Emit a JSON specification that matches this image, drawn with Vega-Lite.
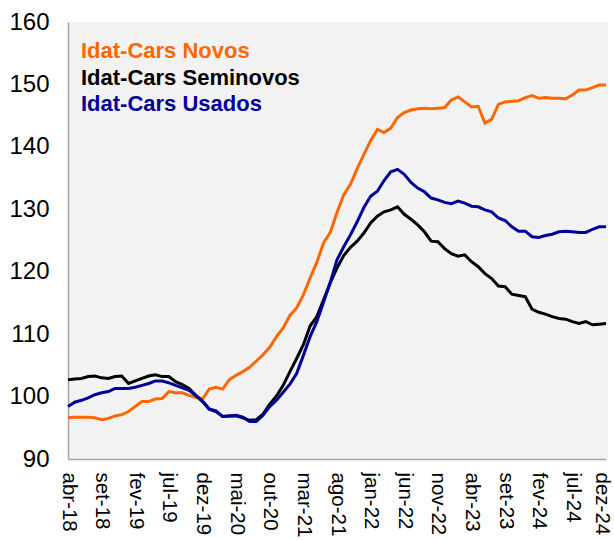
{
 "$schema": "https://vega.github.io/schema/vega-lite/v6.json",
 "autosize": {"type": "none"},
 "padding": {"left": 68, "top": 22, "right": 6, "bottom": 81},
 "width": 540,
 "height": 437,
 "background": "white",
 "config": {"view": {"fill": "#f2f2f2", "stroke": null}, "font": "Liberation Sans"},
 "datasets": {
  "idat": [
{"mes":"abr-18","serie":"Idat-Cars Novos","valor":96.6},{"mes":"mai-18","serie":"Idat-Cars Novos","valor":96.7},{"mes":"jun-18","serie":"Idat-Cars Novos","valor":96.7},{"mes":"jul-18","serie":"Idat-Cars Novos","valor":96.7},{"mes":"ago-18","serie":"Idat-Cars Novos","valor":96.6},{"mes":"set-18","serie":"Idat-Cars Novos","valor":96.3},{"mes":"out-18","serie":"Idat-Cars Novos","valor":96.5},{"mes":"nov-18","serie":"Idat-Cars Novos","valor":96.9},{"mes":"dez-18","serie":"Idat-Cars Novos","valor":97.1},{"mes":"jan-19","serie":"Idat-Cars Novos","valor":97.6},{"mes":"fev-19","serie":"Idat-Cars Novos","valor":98.4},{"mes":"mar-19","serie":"Idat-Cars Novos","valor":99.2},{"mes":"abr-19","serie":"Idat-Cars Novos","valor":99.2},{"mes":"mai-19","serie":"Idat-Cars Novos","valor":99.6},{"mes":"jun-19","serie":"Idat-Cars Novos","valor":99.7},{"mes":"jul-19","serie":"Idat-Cars Novos","valor":100.8},{"mes":"ago-19","serie":"Idat-Cars Novos","valor":100.6},{"mes":"set-19","serie":"Idat-Cars Novos","valor":100.6},{"mes":"out-19","serie":"Idat-Cars Novos","valor":100.2},{"mes":"nov-19","serie":"Idat-Cars Novos","valor":99.9},{"mes":"dez-19","serie":"Idat-Cars Novos","valor":99.6},{"mes":"jan-20","serie":"Idat-Cars Novos","valor":101.2},{"mes":"fev-20","serie":"Idat-Cars Novos","valor":101.5},{"mes":"mar-20","serie":"Idat-Cars Novos","valor":101.2},{"mes":"abr-20","serie":"Idat-Cars Novos","valor":102.7},{"mes":"mai-20","serie":"Idat-Cars Novos","valor":103.4},{"mes":"jun-20","serie":"Idat-Cars Novos","valor":104.0},{"mes":"jul-20","serie":"Idat-Cars Novos","valor":104.7},{"mes":"ago-20","serie":"Idat-Cars Novos","valor":105.7},{"mes":"set-20","serie":"Idat-Cars Novos","valor":106.7},{"mes":"out-20","serie":"Idat-Cars Novos","valor":107.9},{"mes":"nov-20","serie":"Idat-Cars Novos","valor":109.6},{"mes":"dez-20","serie":"Idat-Cars Novos","valor":111.0},{"mes":"jan-21","serie":"Idat-Cars Novos","valor":113.0},{"mes":"fev-21","serie":"Idat-Cars Novos","valor":114.2},{"mes":"mar-21","serie":"Idat-Cars Novos","valor":116.3},{"mes":"abr-21","serie":"Idat-Cars Novos","valor":119.0},{"mes":"mai-21","serie":"Idat-Cars Novos","valor":121.5},{"mes":"jun-21","serie":"Idat-Cars Novos","valor":124.6},{"mes":"jul-21","serie":"Idat-Cars Novos","valor":126.3},{"mes":"ago-21","serie":"Idat-Cars Novos","valor":129.5},{"mes":"set-21","serie":"Idat-Cars Novos","valor":132.3},{"mes":"out-21","serie":"Idat-Cars Novos","valor":134.0},{"mes":"nov-21","serie":"Idat-Cars Novos","valor":136.5},{"mes":"dez-21","serie":"Idat-Cars Novos","valor":138.8},{"mes":"jan-22","serie":"Idat-Cars Novos","valor":141.0},{"mes":"fev-22","serie":"Idat-Cars Novos","valor":142.8},{"mes":"mar-22","serie":"Idat-Cars Novos","valor":142.3},{"mes":"abr-22","serie":"Idat-Cars Novos","valor":143.0},{"mes":"mai-22","serie":"Idat-Cars Novos","valor":144.7},{"mes":"jun-22","serie":"Idat-Cars Novos","valor":145.5},{"mes":"jul-22","serie":"Idat-Cars Novos","valor":145.9},{"mes":"ago-22","serie":"Idat-Cars Novos","valor":146.1},{"mes":"set-22","serie":"Idat-Cars Novos","valor":146.2},{"mes":"out-22","serie":"Idat-Cars Novos","valor":146.1},{"mes":"nov-22","serie":"Idat-Cars Novos","valor":146.2},{"mes":"dez-22","serie":"Idat-Cars Novos","valor":146.3},{"mes":"jan-23","serie":"Idat-Cars Novos","valor":147.5},{"mes":"fev-23","serie":"Idat-Cars Novos","valor":148.0},{"mes":"mar-23","serie":"Idat-Cars Novos","valor":147.2},{"mes":"abr-23","serie":"Idat-Cars Novos","valor":146.4},{"mes":"mai-23","serie":"Idat-Cars Novos","valor":146.5},{"mes":"jun-23","serie":"Idat-Cars Novos","valor":143.8},{"mes":"jul-23","serie":"Idat-Cars Novos","valor":144.4},{"mes":"ago-23","serie":"Idat-Cars Novos","valor":146.8},{"mes":"set-23","serie":"Idat-Cars Novos","valor":147.2},{"mes":"out-23","serie":"Idat-Cars Novos","valor":147.3},{"mes":"nov-23","serie":"Idat-Cars Novos","valor":147.4},{"mes":"dez-23","serie":"Idat-Cars Novos","valor":147.9},{"mes":"jan-24","serie":"Idat-Cars Novos","valor":148.2},{"mes":"fev-24","serie":"Idat-Cars Novos","valor":147.8},{"mes":"mar-24","serie":"Idat-Cars Novos","valor":147.9},{"mes":"abr-24","serie":"Idat-Cars Novos","valor":147.8},{"mes":"mai-24","serie":"Idat-Cars Novos","valor":147.8},{"mes":"jun-24","serie":"Idat-Cars Novos","valor":147.7},{"mes":"jul-24","serie":"Idat-Cars Novos","valor":148.3},{"mes":"ago-24","serie":"Idat-Cars Novos","valor":149.1},{"mes":"set-24","serie":"Idat-Cars Novos","valor":149.1},{"mes":"out-24","serie":"Idat-Cars Novos","valor":149.5},{"mes":"nov-24","serie":"Idat-Cars Novos","valor":149.9},{"mes":"dez-24","serie":"Idat-Cars Novos","valor":149.9},
{"mes":"abr-18","serie":"Idat-Cars Seminovos","valor":102.7},{"mes":"mai-18","serie":"Idat-Cars Seminovos","valor":102.8},{"mes":"jun-18","serie":"Idat-Cars Seminovos","valor":102.9},{"mes":"jul-18","serie":"Idat-Cars Seminovos","valor":103.2},{"mes":"ago-18","serie":"Idat-Cars Seminovos","valor":103.3},{"mes":"set-18","serie":"Idat-Cars Seminovos","valor":103.0},{"mes":"out-18","serie":"Idat-Cars Seminovos","valor":102.9},{"mes":"nov-18","serie":"Idat-Cars Seminovos","valor":103.2},{"mes":"dez-18","serie":"Idat-Cars Seminovos","valor":103.3},{"mes":"jan-19","serie":"Idat-Cars Seminovos","valor":102.1},{"mes":"fev-19","serie":"Idat-Cars Seminovos","valor":102.5},{"mes":"mar-19","serie":"Idat-Cars Seminovos","valor":102.9},{"mes":"abr-19","serie":"Idat-Cars Seminovos","valor":103.3},{"mes":"mai-19","serie":"Idat-Cars Seminovos","valor":103.5},{"mes":"jun-19","serie":"Idat-Cars Seminovos","valor":103.2},{"mes":"jul-19","serie":"Idat-Cars Seminovos","valor":103.2},{"mes":"ago-19","serie":"Idat-Cars Seminovos","valor":102.4},{"mes":"set-19","serie":"Idat-Cars Seminovos","valor":101.9},{"mes":"out-19","serie":"Idat-Cars Seminovos","valor":101.3},{"mes":"nov-19","serie":"Idat-Cars Seminovos","valor":100.2},{"mes":"dez-19","serie":"Idat-Cars Seminovos","valor":99.2},{"mes":"jan-20","serie":"Idat-Cars Seminovos","valor":98.0},{"mes":"fev-20","serie":"Idat-Cars Seminovos","valor":97.6},{"mes":"mar-20","serie":"Idat-Cars Seminovos","valor":96.8},{"mes":"abr-20","serie":"Idat-Cars Seminovos","valor":96.9},{"mes":"mai-20","serie":"Idat-Cars Seminovos","valor":96.9},{"mes":"jun-20","serie":"Idat-Cars Seminovos","valor":96.6},{"mes":"jul-20","serie":"Idat-Cars Seminovos","valor":96.2},{"mes":"ago-20","serie":"Idat-Cars Seminovos","valor":96.3},{"mes":"set-20","serie":"Idat-Cars Seminovos","valor":97.2},{"mes":"out-20","serie":"Idat-Cars Seminovos","valor":98.8},{"mes":"nov-20","serie":"Idat-Cars Seminovos","valor":100.1},{"mes":"dez-20","serie":"Idat-Cars Seminovos","valor":101.8},{"mes":"jan-21","serie":"Idat-Cars Seminovos","valor":104.0},{"mes":"fev-21","serie":"Idat-Cars Seminovos","valor":106.1},{"mes":"mar-21","serie":"Idat-Cars Seminovos","valor":108.3},{"mes":"abr-21","serie":"Idat-Cars Seminovos","valor":111.3},{"mes":"mai-21","serie":"Idat-Cars Seminovos","valor":112.8},{"mes":"jun-21","serie":"Idat-Cars Seminovos","valor":115.5},{"mes":"jul-21","serie":"Idat-Cars Seminovos","valor":118.2},{"mes":"ago-21","serie":"Idat-Cars Seminovos","valor":120.6},{"mes":"set-21","serie":"Idat-Cars Seminovos","valor":122.6},{"mes":"out-21","serie":"Idat-Cars Seminovos","valor":123.9},{"mes":"nov-21","serie":"Idat-Cars Seminovos","valor":124.9},{"mes":"dez-21","serie":"Idat-Cars Seminovos","valor":126.2},{"mes":"jan-22","serie":"Idat-Cars Seminovos","valor":127.8},{"mes":"fev-22","serie":"Idat-Cars Seminovos","valor":128.9},{"mes":"mar-22","serie":"Idat-Cars Seminovos","valor":129.6},{"mes":"abr-22","serie":"Idat-Cars Seminovos","valor":129.9},{"mes":"mai-22","serie":"Idat-Cars Seminovos","valor":130.4},{"mes":"jun-22","serie":"Idat-Cars Seminovos","valor":129.2},{"mes":"jul-22","serie":"Idat-Cars Seminovos","valor":128.4},{"mes":"ago-22","serie":"Idat-Cars Seminovos","valor":127.5},{"mes":"set-22","serie":"Idat-Cars Seminovos","valor":126.4},{"mes":"out-22","serie":"Idat-Cars Seminovos","valor":124.9},{"mes":"nov-22","serie":"Idat-Cars Seminovos","valor":124.8},{"mes":"dez-22","serie":"Idat-Cars Seminovos","valor":123.7},{"mes":"jan-23","serie":"Idat-Cars Seminovos","valor":122.9},{"mes":"fev-23","serie":"Idat-Cars Seminovos","valor":122.5},{"mes":"mar-23","serie":"Idat-Cars Seminovos","valor":122.7},{"mes":"abr-23","serie":"Idat-Cars Seminovos","valor":121.6},{"mes":"mai-23","serie":"Idat-Cars Seminovos","valor":120.8},{"mes":"jun-23","serie":"Idat-Cars Seminovos","valor":119.7},{"mes":"jul-23","serie":"Idat-Cars Seminovos","valor":118.9},{"mes":"ago-23","serie":"Idat-Cars Seminovos","valor":117.7},{"mes":"set-23","serie":"Idat-Cars Seminovos","valor":117.6},{"mes":"out-23","serie":"Idat-Cars Seminovos","valor":116.4},{"mes":"nov-23","serie":"Idat-Cars Seminovos","valor":116.2},{"mes":"dez-23","serie":"Idat-Cars Seminovos","valor":116.0},{"mes":"jan-24","serie":"Idat-Cars Seminovos","valor":114.0},{"mes":"fev-24","serie":"Idat-Cars Seminovos","valor":113.5},{"mes":"mar-24","serie":"Idat-Cars Seminovos","valor":113.2},{"mes":"abr-24","serie":"Idat-Cars Seminovos","valor":112.8},{"mes":"mai-24","serie":"Idat-Cars Seminovos","valor":112.5},{"mes":"jun-24","serie":"Idat-Cars Seminovos","valor":112.4},{"mes":"jul-24","serie":"Idat-Cars Seminovos","valor":112.0},{"mes":"ago-24","serie":"Idat-Cars Seminovos","valor":111.7},{"mes":"set-24","serie":"Idat-Cars Seminovos","valor":112.0},{"mes":"out-24","serie":"Idat-Cars Seminovos","valor":111.5},{"mes":"nov-24","serie":"Idat-Cars Seminovos","valor":111.6},{"mes":"dez-24","serie":"Idat-Cars Seminovos","valor":111.7},
{"mes":"abr-18","serie":"Idat-Cars Usados","valor":98.4},{"mes":"mai-18","serie":"Idat-Cars Usados","valor":99.1},{"mes":"jun-18","serie":"Idat-Cars Usados","valor":99.4},{"mes":"jul-18","serie":"Idat-Cars Usados","valor":99.8},{"mes":"ago-18","serie":"Idat-Cars Usados","valor":100.3},{"mes":"set-18","serie":"Idat-Cars Usados","valor":100.6},{"mes":"out-18","serie":"Idat-Cars Usados","valor":100.8},{"mes":"nov-18","serie":"Idat-Cars Usados","valor":101.3},{"mes":"dez-18","serie":"Idat-Cars Usados","valor":101.3},{"mes":"jan-19","serie":"Idat-Cars Usados","valor":101.3},{"mes":"fev-19","serie":"Idat-Cars Usados","valor":101.5},{"mes":"mar-19","serie":"Idat-Cars Usados","valor":101.8},{"mes":"abr-19","serie":"Idat-Cars Usados","valor":102.1},{"mes":"mai-19","serie":"Idat-Cars Usados","valor":102.5},{"mes":"jun-19","serie":"Idat-Cars Usados","valor":102.5},{"mes":"jul-19","serie":"Idat-Cars Usados","valor":102.2},{"mes":"ago-19","serie":"Idat-Cars Usados","valor":101.8},{"mes":"set-19","serie":"Idat-Cars Usados","valor":101.4},{"mes":"out-19","serie":"Idat-Cars Usados","valor":101.0},{"mes":"nov-19","serie":"Idat-Cars Usados","valor":100.2},{"mes":"dez-19","serie":"Idat-Cars Usados","valor":99.3},{"mes":"jan-20","serie":"Idat-Cars Usados","valor":98.0},{"mes":"fev-20","serie":"Idat-Cars Usados","valor":97.7},{"mes":"mar-20","serie":"Idat-Cars Usados","valor":96.8},{"mes":"abr-20","serie":"Idat-Cars Usados","valor":96.9},{"mes":"mai-20","serie":"Idat-Cars Usados","valor":97.0},{"mes":"jun-20","serie":"Idat-Cars Usados","valor":96.7},{"mes":"jul-20","serie":"Idat-Cars Usados","valor":96.0},{"mes":"ago-20","serie":"Idat-Cars Usados","valor":96.0},{"mes":"set-20","serie":"Idat-Cars Usados","valor":97.0},{"mes":"out-20","serie":"Idat-Cars Usados","valor":98.4},{"mes":"nov-20","serie":"Idat-Cars Usados","valor":99.4},{"mes":"dez-20","serie":"Idat-Cars Usados","valor":100.7},{"mes":"jan-21","serie":"Idat-Cars Usados","valor":102.0},{"mes":"fev-21","serie":"Idat-Cars Usados","valor":103.7},{"mes":"mar-21","serie":"Idat-Cars Usados","valor":106.6},{"mes":"abr-21","serie":"Idat-Cars Usados","valor":109.6},{"mes":"mai-21","serie":"Idat-Cars Usados","valor":112.0},{"mes":"jun-21","serie":"Idat-Cars Usados","valor":115.1},{"mes":"jul-21","serie":"Idat-Cars Usados","valor":118.3},{"mes":"ago-21","serie":"Idat-Cars Usados","valor":121.9},{"mes":"set-21","serie":"Idat-Cars Usados","valor":124.0},{"mes":"out-21","serie":"Idat-Cars Usados","valor":125.9},{"mes":"nov-21","serie":"Idat-Cars Usados","valor":128.0},{"mes":"dez-21","serie":"Idat-Cars Usados","valor":130.3},{"mes":"jan-22","serie":"Idat-Cars Usados","valor":132.1},{"mes":"fev-22","serie":"Idat-Cars Usados","valor":132.9},{"mes":"mar-22","serie":"Idat-Cars Usados","valor":134.6},{"mes":"abr-22","serie":"Idat-Cars Usados","valor":136.0},{"mes":"mai-22","serie":"Idat-Cars Usados","valor":136.4},{"mes":"jun-22","serie":"Idat-Cars Usados","valor":135.6},{"mes":"jul-22","serie":"Idat-Cars Usados","valor":134.3},{"mes":"ago-22","serie":"Idat-Cars Usados","valor":133.4},{"mes":"set-22","serie":"Idat-Cars Usados","valor":132.8},{"mes":"out-22","serie":"Idat-Cars Usados","valor":131.8},{"mes":"nov-22","serie":"Idat-Cars Usados","valor":131.5},{"mes":"dez-22","serie":"Idat-Cars Usados","valor":131.1},{"mes":"jan-23","serie":"Idat-Cars Usados","valor":130.9},{"mes":"fev-23","serie":"Idat-Cars Usados","valor":131.3},{"mes":"mar-23","serie":"Idat-Cars Usados","valor":131.0},{"mes":"abr-23","serie":"Idat-Cars Usados","valor":130.5},{"mes":"mai-23","serie":"Idat-Cars Usados","valor":130.4},{"mes":"jun-23","serie":"Idat-Cars Usados","valor":129.9},{"mes":"jul-23","serie":"Idat-Cars Usados","valor":129.6},{"mes":"ago-23","serie":"Idat-Cars Usados","valor":128.6},{"mes":"set-23","serie":"Idat-Cars Usados","valor":128.2},{"mes":"out-23","serie":"Idat-Cars Usados","valor":127.2},{"mes":"nov-23","serie":"Idat-Cars Usados","valor":126.5},{"mes":"dez-23","serie":"Idat-Cars Usados","valor":126.5},{"mes":"jan-24","serie":"Idat-Cars Usados","valor":125.6},{"mes":"fev-24","serie":"Idat-Cars Usados","valor":125.5},{"mes":"mar-24","serie":"Idat-Cars Usados","valor":125.8},{"mes":"abr-24","serie":"Idat-Cars Usados","valor":126.0},{"mes":"mai-24","serie":"Idat-Cars Usados","valor":126.4},{"mes":"jun-24","serie":"Idat-Cars Usados","valor":126.5},{"mes":"jul-24","serie":"Idat-Cars Usados","valor":126.4},{"mes":"ago-24","serie":"Idat-Cars Usados","valor":126.3},{"mes":"set-24","serie":"Idat-Cars Usados","valor":126.3},{"mes":"out-24","serie":"Idat-Cars Usados","valor":126.8},{"mes":"nov-24","serie":"Idat-Cars Usados","valor":127.2},{"mes":"dez-24","serie":"Idat-Cars Usados","valor":127.2}
  ]
 },
 "data": {"name": "idat"},
 "mark": {"type": "line", "strokeWidth": 3},
 "encoding": {
  "x": {
   "field": "mes", "type": "ordinal", "sort": null,
   "scale": {"type": "point", "padding": 0, "range": [0, 538]},
   "axis": {
    "title": null,
    "values": ["abr-18","set-18","fev-19","jul-19","dez-19","mai-20","out-20","mar-21","ago-21","jan-22","jun-22","nov-22","abr-23","set-23","fev-24","jul-24","dez-24"],
    "labelAngle": 90, "labelAlign": "left", "labelBaseline": "middle",
    "labelFontSize": 20.5, "labelColor": "#000000", "labelPadding": 13,
    "labelOffset": {"condition": {"test": "datum.value === 'dez-24'", "value": -5}, "value": 0},
    "labelOverlap": false, "labelBound": false,
    "ticks": false, "grid": false, "domainColor": "#a6a6a6", "domainWidth": 1.5
   }
  },
  "y": {
   "field": "valor", "type": "quantitative",
   "scale": {"domain": [90, 160], "nice": false, "zero": false},
   "axis": {
    "title": null, "values": [90, 100, 110, 120, 130, 140, 150, 160],
    "labelFontSize": 24, "labelColor": "#000000", "labelPadding": 19, "labelFlush": false,
    "ticks": false, "grid": false, "domainColor": "#a6a6a6", "domainWidth": 1.5
   }
  },
  "color": {
   "field": "serie", "type": "nominal",
   "scale": {"domain": ["Idat-Cars Novos", "Idat-Cars Seminovos", "Idat-Cars Usados"], "range": ["#ff6600", "#000000", "#000099"]},
   "legend": {
    "title": null, "orient": "none", "legendX": -11, "legendY": 18, "padding": 0,
    "symbolSize": 0, "symbolOpacity": 0, "symbolStrokeWidth": 0,
    "labelFontSize": 22, "labelFontWeight": "bold", "labelOffset": 2, "labelLimit": 400,
    "rowPadding": 4.5,
    "encode": {"labels": {"update": {"fill": {"scale": "color", "field": "value"}}}}
   }
  }
 }
}
